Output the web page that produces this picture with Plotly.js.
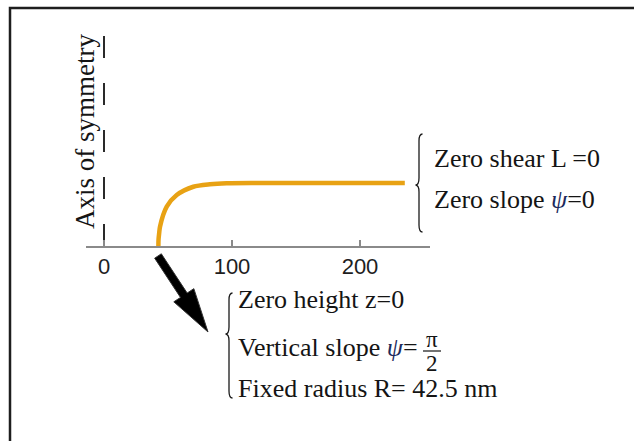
<!DOCTYPE html>
<html>
<head>
<meta charset="utf-8">
<script src="https://cdn.plot.ly/plotly-3.0.1.min.js"></script>
<style>html,body{margin:0;padding:0;background:#fff;}#chart{width:634px;height:441px;}</style>
</head>
<body>
<div id="chart"></div>
<script>
// Meridian profile of the membrane: radius r (nm) and height z (nm)
var radius = [42.5, 42.6, 43.1, 43.75, 49.0, 56.8, 69.8, 82.8, 95.9, 120, 160, 200, 235];
var height = [0, 5, 10, 15.1, 30.7, 39.8, 46.3, 48.2, 49.0, 49.2, 49.2, 49.2, 49.2];
// Axis of symmetry (r = 0)
var axisR = [0, 0];
var axisZ = [0, 167.2];
var tickValues = [0, 100, 200];
var tickLabels = ['0', '100', '200'];
var symmetryLabel = 'Axis of symmetry';
var topConditions = ['Zero shear L =0', 'Zero slope <i><span style="color:#1c2a5c">ψ</span></i>=0'];
var bottomConditions = ['Zero height z=0', 'Vertical slope <i><span style="color:#1c2a5c">ψ</span></i>=', 'Fixed radius R= 42.5 nm'];
var fracNum = 'π', fracDen = '2';

var W = 634, H = 441;
function px(x) { return x / W; }
function py(y) { return 1 - y / H; }

var serif = 'Liberation Serif, Times New Roman, serif';
var txt = '#141414';

function brace(xc, ytop, ymid, ybot, w) {
  var h = w / 2;
  var p = [
    ['M', xc + h, ytop],
    ['Q', xc, ytop, xc, ytop + w],
    ['L', xc, ymid - w],
    ['Q', xc, ymid, xc - h, ymid],
    ['Q', xc, ymid, xc, ymid + w],
    ['L', xc, ybot - w],
    ['Q', xc, ybot, xc + h, ybot]
  ];
  return p.map(function (s) {
    var out = s[0];
    for (var i = 1; i < s.length; i += 2) {
      out += (i > 1 ? ' ' : '') + px(s[i]).toFixed(5) + ',' + py(s[i + 1]).toFixed(5);
    }
    return out;
  }).join(' ');
}

function blockArrow(x0, y0, x1, y1, shaftW, headW, headL) {
  var dx = x1 - x0, dy = y1 - y0, L = Math.sqrt(dx * dx + dy * dy);
  var ux = dx / L, uy = dy / L, nx = -uy, ny = ux;
  var bx = x1 - ux * headL, by = y1 - uy * headL;
  var pts = [
    [x0 + nx * shaftW / 2, y0 + ny * shaftW / 2],
    [bx + nx * shaftW / 2, by + ny * shaftW / 2],
    [bx + nx * headW / 2, by + ny * headW / 2],
    [x1, y1],
    [bx - nx * headW / 2, by - ny * headW / 2],
    [bx - nx * shaftW / 2, by - ny * shaftW / 2],
    [x0 - nx * shaftW / 2, y0 - ny * shaftW / 2]
  ];
  return 'M' + pts.map(function (p) { return px(p[0]).toFixed(5) + ',' + py(p[1]).toFixed(5); }).join(' L') + ' Z';
}

var traces = [
  {
    x: axisR, y: axisZ, mode: 'lines', type: 'scatter', hoverinfo: 'skip',
    line: { color: '#2a2a2a', width: 2, dash: '22px,25px' }
  },
  {
    x: radius, y: height, mode: 'lines', type: 'scatter', hoverinfo: 'skip',
    line: { color: '#E8A214', width: 4.5, shape: 'spline', smoothing: 0.8 }
  }
];

var annotations = [
  { xref: 'paper', yref: 'paper', x: px(85), y: py(132), text: symmetryLabel, textangle: -90,
    showarrow: false, xanchor: 'center', yanchor: 'middle', font: { family: serif, size: 27, color: txt } },
  { xref: 'paper', yref: 'paper', x: px(432), y: py(159), text: topConditions[0],
    showarrow: false, xanchor: 'left', yanchor: 'middle', font: { family: serif, size: 26, color: txt } },
  { xref: 'paper', yref: 'paper', x: px(432), y: py(199), text: topConditions[1],
    showarrow: false, xanchor: 'left', yanchor: 'middle', font: { family: serif, size: 26, color: txt } },
  { xref: 'paper', yref: 'paper', x: px(236), y: py(299), text: bottomConditions[0],
    showarrow: false, xanchor: 'left', yanchor: 'middle', font: { family: serif, size: 26, color: txt } },
  { xref: 'paper', yref: 'paper', x: px(236), y: py(347), text: bottomConditions[1],
    showarrow: false, xanchor: 'left', yanchor: 'middle', font: { family: serif, size: 26, color: txt } },
  { xref: 'paper', yref: 'paper', x: px(432), y: py(339), text: fracNum,
    showarrow: false, xanchor: 'center', yanchor: 'middle', font: { family: serif, size: 23, color: txt } },
  { xref: 'paper', yref: 'paper', x: px(432), y: py(363), text: fracDen,
    showarrow: false, xanchor: 'center', yanchor: 'middle', font: { family: serif, size: 23, color: txt } },
  { xref: 'paper', yref: 'paper', x: px(236), y: py(388), text: bottomConditions[2],
    showarrow: false, xanchor: 'left', yanchor: 'middle', font: { family: serif, size: 26, color: txt } }
];

var shapes = [
  { type: 'rect', xref: 'paper', yref: 'paper', x0: px(10), x1: px(700), y0: py(8), y1: py(520),
    line: { color: '#1e1e1e', width: 2.5 }, fillcolor: 'rgba(0,0,0,0)' },
  { type: 'path', xref: 'paper', yref: 'paper', path: brace(419, 134, 185, 232, 7),
    line: { color: '#1a1a1a', width: 1.3 } },
  { type: 'path', xref: 'paper', yref: 'paper', path: brace(229, 293, 334, 398, 7),
    line: { color: '#1a1a1a', width: 1.3 } },
  { type: 'line', xref: 'paper', yref: 'paper', x0: px(423), x1: px(441), y0: py(351), y1: py(351),
    line: { color: txt, width: 1.2 } },
  { type: 'path', xref: 'paper', yref: 'paper', path: blockArrow(158, 256, 208, 332, 8, 24, 44),
    fillcolor: '#000', line: { color: '#333', width: 1 } }
];

var layout = {
  width: W, height: H,
  margin: { l: 0, r: 0, t: 0, b: 0 },
  paper_bgcolor: '#ffffff', plot_bgcolor: 'rgba(0,0,0,0)',
  showlegend: false,
  xaxis: {
    domain: [86 / W, 430 / W],
    range: [(86 - 104) / 1.28, (430 - 104) / 1.28],
    anchor: 'free', position: 1 - 246 / H, side: 'bottom',
    showgrid: false, zeroline: false,
    showline: true, linecolor: '#8a8a8a', linewidth: 1.5,
    ticks: 'inside', ticklen: 6, tickwidth: 1.2, tickcolor: '#8a8a8a',
    tickmode: 'array', tickvals: tickValues, ticktext: tickLabels,
    tickfont: { family: 'Liberation Sans, Arial, sans-serif', size: 22, color: '#1e1e1e' }
  },
  yaxis: {
    domain: [0, 1],
    range: [(246 - 441) / 1.28, 246 / 1.28],
    visible: false, showgrid: false, zeroline: false
  },
  annotations: annotations,
  shapes: shapes
};

Plotly.newPlot('chart', traces, layout, { displayModeBar: false, staticPlot: true });
</script>
</body>
</html>
